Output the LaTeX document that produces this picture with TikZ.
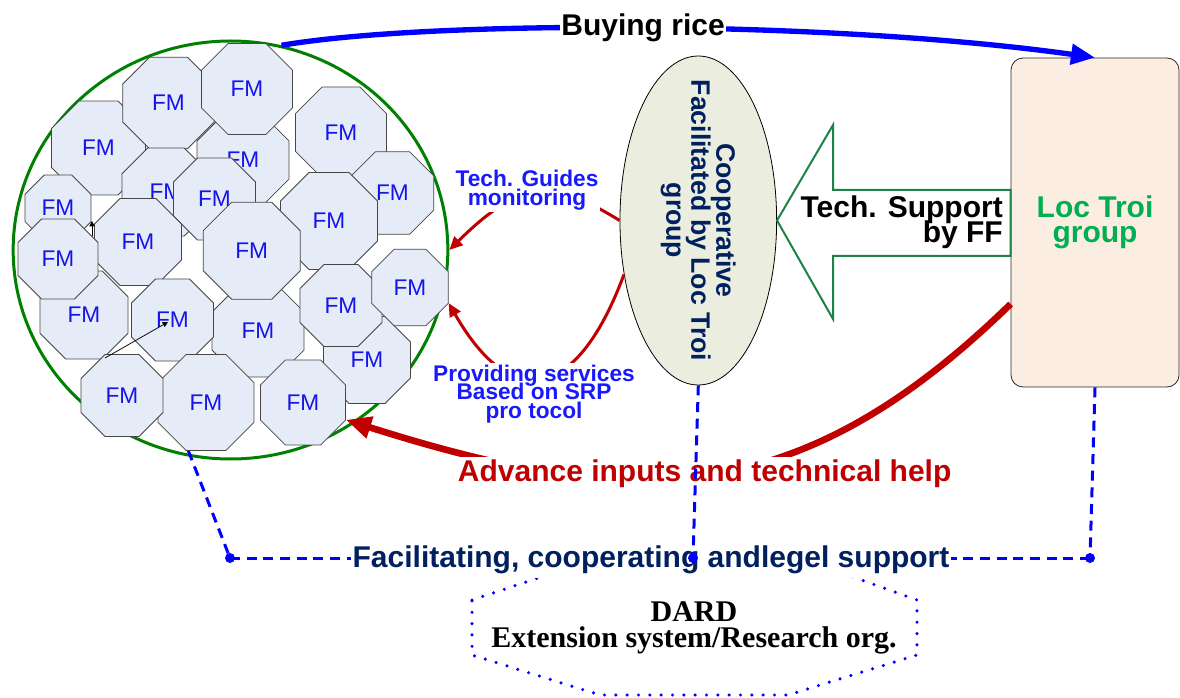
\documentclass[tikz,border=0pt]{standalone}
\usepackage{fontspec}
\setmainfont{Liberation Sans}
\newfontfamily\dardfont{Liberation Serif}
\usetikzlibrary{shapes.geometric,arrows.meta}
\lineskiplimit=-\maxdimen

\begin{document}
\begin{tikzpicture}[x=0.75pt,y=0.75pt,yscale=-1,xscale=1,
  farm/.style={regular polygon,regular polygon sides=8,inner sep=0pt,line width=0.6pt,draw={rgb, 255:red, 70; green, 70; blue, 70 },fill={rgb, 255:red, 230; green, 236; blue, 247 },text={rgb, 255:red, 20; green, 20; blue, 235 },font=\fontsize{17}{20}\selectfont},
  farmring/.style={ellipse,inner sep=0pt,minimum width=326pt,minimum height=313.5pt,line width=2.25pt,draw={rgb, 255:red, 0; green, 128; blue, 0 }},
  coopshape/.style={ellipse,inner sep=0pt,minimum width=117.5pt,minimum height=246.75pt,line width=0.6pt,draw=black,fill={rgb, 255:red, 235; green, 238; blue, 222 }},
  cooptext/.style={align=center,inner sep=0pt,text={rgb, 255:red, 0; green, 32; blue, 96 },font=\fontsize{20}{18.75}\selectfont\bfseries},
  groupbox/.style={rectangle,rounded corners=9pt,minimum width=126pt,minimum height=246.75pt,line width=0.6pt,draw={rgb, 255:red, 40; green, 40; blue, 40 },fill={rgb, 255:red, 252; green, 237; blue, 226 },align=center,text={rgb, 255:red, 0; green, 176; blue, 80 },font=\fontsize{22.5}{19}\selectfont\bfseries},
  hollowarrow/.style={line width=1.5pt,draw={rgb, 255:red, 30; green, 130; blue, 70 },fill=white},
  buyarrow/.style={line width=4pt,draw={rgb, 255:red, 0; green, 0; blue, 255 },-{Triangle[length=18pt,width=15pt]}},
  helparrow/.style={line width=5pt,draw={rgb, 255:red, 192; green, 0; blue, 0 },-{Triangle[length=19pt,width=16pt]}},
  servicearrow/.style={line width=2.25pt,draw={rgb, 255:red, 192; green, 0; blue, 0 },-{Triangle[length=10pt,width=9pt]}},
  tinyarrow/.style={line width=0.6pt,draw=black,-{Triangle[length=4pt,width=4pt]}},
  linkline/.style={line width=2.25pt,draw={rgb, 255:red, 0; green, 0; blue, 255 },dash pattern=on 7.5pt off 5pt},
  linkdot/.style={circle,inner sep=0pt,minimum size=7.5pt,fill={rgb, 255:red, 0; green, 0; blue, 255 }},
  dardline/.style={line width=2.6pt,line cap=round,draw={rgb, 255:red, 0; green, 0; blue, 255 },dash pattern=on 0pt off 8.5pt},
  bigtext/.style={fill=white,inner sep=2pt,font=\fontsize{22.5}{19}\selectfont\bfseries},
  bluetext/.style={fill=white,inner sep=1.5pt,align=center,text={rgb, 255:red, 25; green, 25; blue, 255 },font=\fontsize{17}{14}\selectfont\bfseries}
]
\useasboundingbox (0,0) rectangle (1180,698);

%Shape: Ellipse (farmer ring)
\node[farmring] (farmers) at (230.5,250) {};

% Text Node
\node[farm,minimum size=76.3pt] (fm3) at (98.5,148) {FM};
% Text Node
\node[farm,minimum size=74.3pt] (fm2) at (168.5,103) {FM};
% Text Node
\node[farm,minimum size=74.7pt] (fm5) at (243,160) {FM};
% Text Node
\node[farm,minimum size=73.9pt] (fm1) at (247,89) {FM};
% Text Node
\node[farm,minimum size=73.9pt] (fm4) at (341,132.5) {FM};
% Text Node
\node[farm,minimum size=71.4pt] (fm6) at (166,192) {FM};
% Text Node
\node[farm,minimum size=67pt] (fm8) at (392.5,193) {FM};
% Text Node
\node[farm,minimum size=78.7pt] (fm13) at (329,221) {FM};
% Text Node
\node[farm,minimum size=66.6pt] (fm7) at (214.5,199) {FM};
% Text Node
\node[farm,minimum size=53.6pt] (fm9) at (58,208) {FM};
% Text Node
\node[farm,minimum size=71.4pt] (fm14) at (84,315) {FM};
% Text Node
\node[farm,minimum size=70.6pt] (fm11) at (138,242) {FM};
% Text Node
\node[farm,minimum size=64.9pt] (fm10) at (58,259) {FM};
% Text Node
\node[farm,minimum size=74.7pt] (fm16) at (258,331) {FM};
% Text Node
\node[farm,minimum size=78.7pt] (fm12) at (251.7,250.7) {FM};
% Text Node
\node[farm,minimum size=66.6pt] (fm15) at (172.5,320) {FM};
% Text Node
\node[farm,minimum size=70.6pt] (fm19) at (367,360) {FM};
% Text Node
\node[farm,minimum size=66.6pt] (fm17) at (341,305.5) {FM};
% Text Node
\node[farm,minimum size=62.1pt] (fm18) at (410,287.5) {FM};
% Text Node
\node[farm,minimum size=77.9pt] (fm21) at (206,402.5) {FM};
% Text Node
\node[farm,minimum size=66.6pt] (fm20) at (122,395.5) {FM};
% Text Node
\node[farm,minimum size=69pt] (fm22) at (303,402.5) {FM};

%Straight Lines
\coordinate (tka) at (92,236);
\coordinate (tkb) at (92,221);
\draw[tinyarrow] (tka) -- (tkb);
\coordinate (tkc) at (105,358);
\coordinate (tkd) at (168,322);
\draw[tinyarrow] (tkc) -- (tkd);

%Shape: Ellipse
\node[coopshape] (coop) at (698.3,220.5) {};
% Text Node
\node[cooptext,rotate=-90] (cooplbl) at (coop.center) {Cooperative\\Facilitated by Loc Troi\\group};

%Rounded Rect
\node[groupbox] (box) at (1095,222.5) {Loc Troi\\group};

%Shape: Left Arrow
\draw[hollowarrow] (coop.east) -- (833,125) -- (833,190) -- (box.west |- 0,190) -- (box.west |- 0,256) -- (833,256) -- (833,319) -- cycle;
% Text Node
\node[anchor=east,align=right,inner sep=0pt,font=\fontsize{22.5}{19}\selectfont\bfseries] (ffnote) at (1003,222.5) {Tech. Support\\by FF};

% Connection
\draw[buyarrow] (farmers.76) .. controls (430,20) and (826,20) .. (box.north) node[pos=0.5,bigtext,inner sep=1pt] (buylbl) {Buying rice};

% Connection
\draw[servicearrow] (coop.west) .. controls (553,179) and (520,180) .. (farmers.east);
% Text Node
\node[bluetext] (guides) at (527,190.5) {Tech. Guides\\monitoring};

% Connection
\draw[servicearrow] (coop.216) .. controls (579,396) and (514,417) .. (fm18.-22.5);
% Text Node
\node[bluetext] (services) at (534,394) {Providing services\\Based on SRP\\pro tocol};

% Connection
\draw[helparrow] (box.224.5) .. controls (796,513) and (631,510) .. (fm22.-22.5) node[pos=0.5,bigtext,text={rgb, 255:red, 192; green, 0; blue, 0 }] (helplbl) {Advance inputs and technical help};

%Shape: Octagon (dotted)
\draw[dardline] (472,600) -- (550,574) -- (845,574) -- (917,600) -- (917,655) -- (788,695) -- (600,695) -- (472,655) -- cycle;
% Text Node
\node[align=center,inner sep=0pt,font=\dardfont\fontsize{22.5}{20}\selectfont\bfseries] (dard) at (694,628) {DARD\\Extension system/Research org.};

%Straight Lines
\coordinate (jl) at (230,558);
\coordinate (jm) at (693,558);
\coordinate (jr) at (1090,558);
\draw[linkline] (jl) -- (jr);
% Text Node
\node[bigtext,inner xsep=1pt,inner ysep=3pt,text={rgb, 255:red, 0; green, 32; blue, 96 }] (support) at (651,560) {Facilitating, cooperating andlegel support};
\draw[linkline] (fm21.250) -- (jl);
\draw[linkline] (coop.south) -- (jm);
\draw[linkline] (box.south) -- (jr);
\node[linkdot] (dotl) at (jl) {};
\node[linkdot] (dotm) at (jm) {};
\node[linkdot] (dotr) at (jr) {};

\end{tikzpicture}
\end{document}
